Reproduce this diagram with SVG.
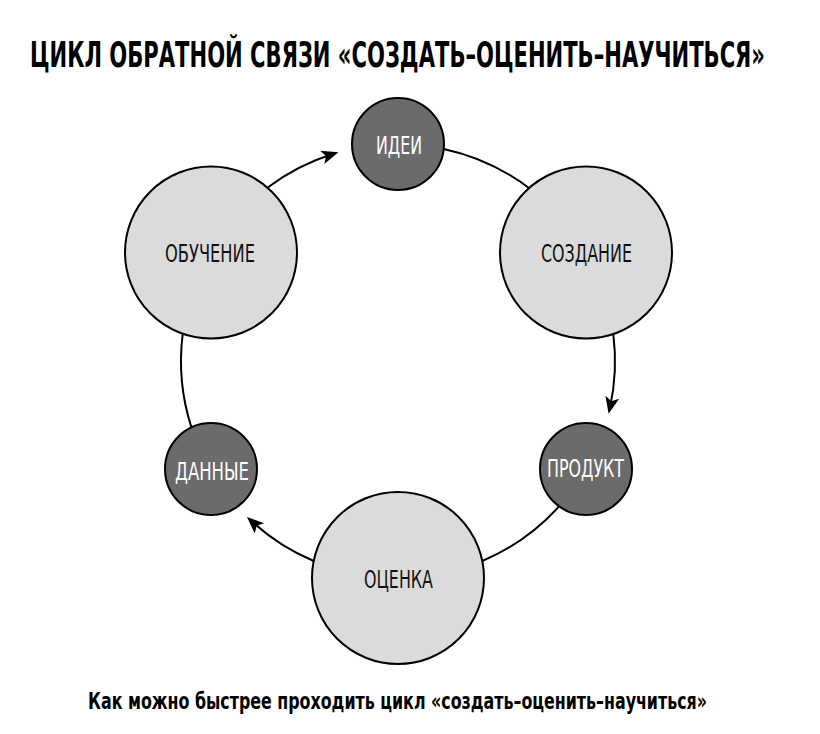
<svg xmlns="http://www.w3.org/2000/svg" width="820" height="734" viewBox="0 0 820 734">
<style>
.big{fill:#dbdbdb;stroke:#000;stroke-width:2}
.small{fill:#6b6b6b;stroke:#000;stroke-width:2}
.lbl{font-family:"Liberation Sans Narrow","DejaVu Sans Condensed","Liberation Sans",sans-serif;font-size:24px;text-anchor:middle}
.dk{fill:#111}
.wt{fill:#fff}
.title{font-family:"Liberation Sans Narrow","DejaVu Sans Condensed","Liberation Sans",sans-serif;font-weight:bold;fill:#000}
.conn{fill:none;stroke:#000;stroke-width:2}
</style>
<defs>
<marker id="ah" markerUnits="userSpaceOnUse" markerWidth="18" markerHeight="14" refX="11" refY="7" orient="auto">
<path d="M0,0 L17,7 L0,14 L4,7 Z" fill="#000"/>
</marker>
</defs>
<rect width="820" height="734" fill="#fff"/>
<g transform="translate(30,67) scale(1,1.5)">
<text class="title" x="0" y="0" font-size="24" textLength="735" lengthAdjust="spacingAndGlyphs">ЦИКЛ ОБРАТНОЙ СВЯЗИ «СОЗДАТЬ–ОЦЕНИТЬ–НАУЧИТЬСЯ»</text>
</g>
<g id="connectors">
<path class="conn" d="M443.7,148.9 A217,217 0 0 1 529.0,188.0"/>
<path class="conn" d="M613.3,334.0 A217,217 0 0 1 609.9,408.0" marker-end="url(#ah)"/>
<path class="conn" d="M558.8,506.7 A217,217 0 0 1 482.3,561.0"/>
<path class="conn" d="M313.7,561.0 A217,217 0 0 1 251.4,521.0" marker-end="url(#ah)"/>
<path class="conn" d="M191.4,427.4 A217,217 0 0 1 182.7,334.0"/>
<path class="conn" d="M267.0,188.0 A217,217 0 0 1 332.7,154.0" marker-end="url(#ah)"/>
</g>
<g id="idei"><circle class="small" cx="398" cy="144" r="46"/><text class="lbl wt" x="399" y="154" textLength="46" lengthAdjust="spacingAndGlyphs">ИДЕИ</text></g>
<g id="sozdanie"><circle class="big" cx="586" cy="252.5" r="86"/><text class="lbl dk" x="586.5" y="262" textLength="91" lengthAdjust="spacingAndGlyphs">СОЗДАНИЕ</text></g>
<g id="produkt"><circle class="small" cx="586" cy="469" r="46"/><text class="lbl wt" x="585.5" y="477" textLength="77" lengthAdjust="spacingAndGlyphs">ПРОДУКТ</text></g>
<g id="otsenka"><circle class="big" cx="398" cy="578" r="86"/><text class="lbl dk" x="398.5" y="588" textLength="69" lengthAdjust="spacingAndGlyphs">ОЦЕНКА</text></g>
<g id="dannye"><circle class="small" cx="211" cy="469" r="46"/><text class="lbl wt" x="212" y="480" textLength="74" lengthAdjust="spacingAndGlyphs">ДАННЫЕ</text></g>
<g id="obuchenie"><circle class="big" cx="211" cy="252.5" r="86"/><text class="lbl dk" x="210" y="262" textLength="90" lengthAdjust="spacingAndGlyphs">ОБУЧЕНИЕ</text></g>
<g transform="translate(88,709) scale(1,1.2)">
<text class="title" x="0" y="0" font-size="19" textLength="619" lengthAdjust="spacingAndGlyphs">Как можно быстрее проходить цикл «создать–оценить–научиться»</text>
</g>
</svg>
